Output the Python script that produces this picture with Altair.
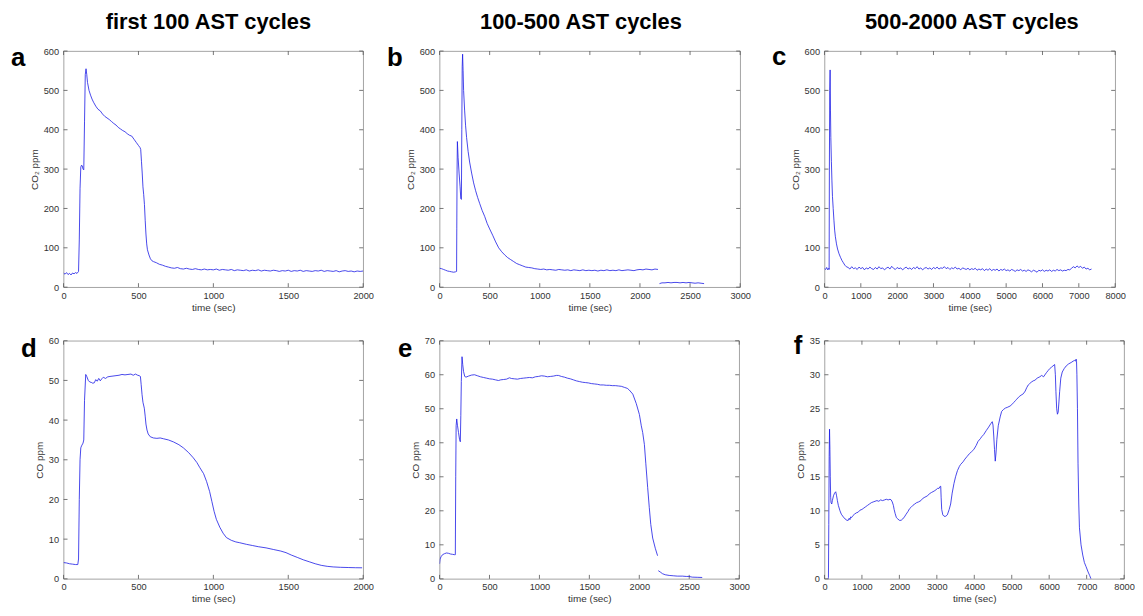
import altair as alt
import pandas as pd

FONT = "Liberation Sans"
LINE = "#1a1ae6"

# ---------------- data ----------------
# (a) CO2, first 100 AST cycles
t_a = [0, 10, 20, 30, 40, 50, 60, 70, 80, 90, 100, 105, 110, 115, 120, 125, 130, 135, 140, 145, 150, 155, 160, 170,
       180, 190, 200, 215, 230, 245, 260, 275, 290, 305, 320, 335, 350, 365, 380, 395, 410, 425, 440, 455, 470, 485,
       500, 510, 515, 520, 525, 530, 535, 540, 545, 550, 555, 560, 570, 580, 590, 600, 620, 640, 660, 680, 700,
       720, 740, 760, 780, 800, 820, 840, 860, 880, 900, 920, 940, 960, 980, 1000, 1020, 1040, 1060, 1080, 1100,
       1120, 1140, 1160, 1180, 1200, 1220, 1240, 1260, 1280, 1300, 1320, 1340, 1360, 1380, 1400, 1420, 1440, 1460,
       1480, 1500, 1520, 1540, 1560, 1580, 1600, 1620, 1640, 1660, 1680, 1700, 1720, 1740, 1760, 1780, 1800, 1820,
       1840, 1860, 1880, 1900, 1920, 1940, 1960, 1980, 2000]
y_a = [36, 33, 37, 32, 35, 31, 36, 34, 37, 35, 40, 120, 250, 305, 310, 308, 300, 298, 420, 540, 555, 540, 520, 500,
       488, 478, 470, 460, 452, 448, 440, 434, 430, 426, 421, 416, 412, 406, 402, 398, 395, 390, 386, 384, 376, 368,
       360, 355, 350, 320, 290, 255, 235, 210, 170, 135, 110, 95, 82, 72, 67, 65, 62, 58, 56, 53, 51,
       49, 48, 50, 47, 46, 48, 46, 45, 47, 45, 44, 46, 44, 45, 44, 46, 43, 45, 44, 43,
       45, 42, 44, 43, 42, 44, 41, 43, 42, 44, 41, 43, 42, 41, 43, 42, 40, 42,
       41, 43, 40, 42, 41, 43, 40, 42, 41, 40, 42, 41, 43, 40, 42, 41, 40, 42,
       39, 41, 42, 40, 41, 39, 41, 40, 41]

# (b) CO2, 100-500 AST cycles (two recorded segments)
t_b1 = [0, 20, 40, 60, 80, 100, 120, 140, 160, 170, 172, 175, 178, 185, 195, 205, 212, 218, 222, 226, 230, 235, 240,
        250, 260, 270, 285, 300, 320, 340, 360, 380, 400, 425, 450, 475, 500, 530, 560, 590, 620, 650, 680, 710,
        740, 770, 800, 830, 860, 890, 920, 950, 980, 1010, 1040, 1070, 1100, 1130, 1160, 1190, 1220, 1250, 1280,
        1310, 1340, 1370, 1400, 1430, 1460, 1490, 1520, 1550, 1580, 1610, 1640, 1670, 1700, 1730, 1760, 1790, 1820,
        1850, 1880, 1910, 1940, 1970, 2000, 2030, 2060, 2090, 2120, 2150, 2180]
y_b1 = [48, 47, 45, 43, 41, 40, 39, 38, 39, 40, 150, 300, 370, 330, 290, 255, 225, 223, 400, 560, 592, 550, 500,
        450, 410, 380, 345, 318, 290, 265, 245, 228, 213, 195, 180, 162, 148, 132, 115, 100, 90, 82, 75, 70,
        65, 60, 57, 54, 51, 50, 49, 47, 46, 45, 46, 44, 45, 44, 43, 45, 44, 43, 44,
        42, 44, 43, 42, 44, 42, 43, 42, 43, 41, 43, 42, 44, 42, 43, 42, 44, 42,
        43, 44, 43, 42, 44, 45, 44, 46, 45, 44, 46, 45]
t_b2 = [2195, 2220, 2250, 2280, 2310, 2340, 2370, 2400, 2430, 2460, 2490, 2520, 2550, 2580, 2610, 2640]
y_b2 = [9, 11, 11, 12, 11, 12, 12, 11, 12, 11, 12, 11, 10, 11, 10, 9]

# (c) CO2, 500-2000 AST cycles
t_c = [0, 30, 60, 90, 120, 128, 135, 145, 155, 165, 175, 190, 205, 220, 240, 260, 280, 300, 330, 360, 400, 440, 480,
       520, 560, 600,
       650, 700, 750, 800, 850, 900, 950, 1000, 1050, 1100, 1150, 1200, 1250, 1300, 1350, 1400, 1450, 1500, 1550,
       1600, 1650, 1700, 1750, 1800, 1850, 1900, 1950, 2000, 2050, 2100, 2150, 2200, 2250, 2300, 2350, 2400, 2450,
       2500, 2550, 2600, 2650, 2700, 2750, 2800, 2850, 2900, 2950, 3000, 3050, 3100, 3150, 3200, 3250, 3300, 3350,
       3400, 3450, 3500, 3550, 3600, 3650, 3700, 3750, 3800, 3850, 3900, 3950, 4000, 4050, 4100, 4150, 4200, 4250,
       4300, 4350, 4400, 4450, 4500, 4550, 4600, 4650, 4700, 4750, 4800, 4850, 4900, 4950, 5000, 5050, 5100, 5150,
       5200, 5250, 5300, 5350, 5400, 5450, 5500, 5550, 5600, 5650, 5700, 5750, 5800, 5850, 5900, 5950, 6000, 6050,
       6100, 6150, 6200, 6250, 6300, 6350, 6400, 6450, 6500, 6550, 6600, 6650, 6700, 6750, 6800, 6850, 6900, 6950,
       7000, 7050, 7100, 7150, 7200, 7250, 7300, 7350]
y_c = [47, 45, 50, 44, 48, 45, 300, 500, 552, 450, 380, 320, 270, 230, 200, 170, 145, 128, 110, 97, 85, 76, 68,
       62, 56, 52,
       50, 46, 52, 47, 49, 45, 51, 47, 50, 44, 49, 46, 51, 47, 45, 50, 46, 52, 47,
       49, 44, 48, 51, 46, 53, 48, 45, 50, 47, 49, 44, 48, 51, 46, 49, 45, 50,
       47, 52, 46, 49, 44, 48, 50, 46, 49, 45, 50, 47, 51, 46, 49, 48, 52, 47,
       50, 45, 49, 47, 51, 46, 48, 44, 49, 47, 45, 48, 44, 47, 45, 48, 43, 46,
       44, 47, 42, 46, 43, 47, 42, 45, 43, 46, 41, 45, 43, 46, 42, 44, 41, 45,
       43, 40, 44, 42, 45, 41, 43, 40, 44, 42, 39, 43, 41, 38, 43, 41, 44, 40,
       43, 41, 44, 40, 43, 41, 45, 42, 44, 41, 43, 42, 45, 44, 48, 52, 49, 54,
       50, 53, 48, 51, 46, 48, 44, 46]

# (d) CO, first 100 AST cycles
t_d = [0, 20, 40, 60, 80, 95, 100, 105, 110, 115, 120, 130, 135, 140, 148, 155, 165, 175, 185, 195, 205, 215, 225,
       235, 245, 255, 265, 280, 295, 310, 330, 350, 370, 390, 410, 430, 450, 465, 480, 495, 505, 513, 518, 524,
       530, 539, 545, 550, 557, 565, 579, 600, 623, 645, 667, 700, 734, 770, 800, 835, 866, 890, 910, 935, 955,
       975, 990, 1005, 1020, 1043, 1065, 1087, 1120, 1150, 1176, 1220, 1260, 1300, 1352, 1400, 1450, 1485, 1520,
       1560, 1600, 1640, 1680, 1720, 1760, 1800, 1850, 1900, 1950, 1993]
y_d = [4.1, 4.0, 3.8, 3.7, 3.6, 3.6, 5, 20, 30, 33, 33.5, 34.2, 35, 45, 51.5, 51, 50, 49.6, 49.5, 49.3, 49.4, 50.2,
       49.8, 50.5, 49.9, 50.4, 50.8, 50.5, 50.9, 51, 51.1, 51.2, 51.3, 51.5, 51.4, 51.5, 51.6, 51.3, 51.6, 51.3,
       51.2, 51, 49, 46.4, 44.5, 43, 41, 39, 37.5, 36.5, 35.8, 35.5, 35.4, 35.5, 35.3, 35, 34.5, 33.8, 33, 31.8,
       30.5, 29.3, 28, 26.5, 24.5, 22, 19.5, 17, 15, 13, 11.5, 10.4, 9.7, 9.3, 9.1, 8.7, 8.4, 8.1, 7.8, 7.4, 7.0,
       6.6, 6.0, 5.4, 4.8, 4.3, 3.8, 3.4, 3.15, 3.0, 2.9, 2.85, 2.8, 2.78]

# (e) CO, 100-500 AST cycles (two recorded segments)
t_e1 = [0, 5, 15, 30, 50, 70, 90, 110, 130, 150, 158, 162, 166, 172, 180, 190, 200, 208, 213, 218, 225, 232, 240,
        252, 265, 290, 320, 350, 380, 410, 440, 470, 500, 530, 560, 590, 612, 640, 670, 700, 720, 750, 780, 810,
        840, 870, 900, 930, 960, 990, 1020, 1050, 1080, 1110, 1140, 1170, 1190, 1220, 1250, 1280, 1310, 1340,
        1370, 1400, 1430, 1460, 1490, 1520, 1550, 1580, 1610, 1640, 1670, 1700, 1730, 1760, 1790, 1820, 1850,
        1880, 1900, 1935, 1970, 2001, 2020, 2034, 2051, 2065, 2084, 2100, 2115, 2134, 2160, 2183]
y_e1 = [4.4, 5.8, 6.5, 7.1, 7.4, 7.6, 7.5, 7.3, 7.2, 7.1, 7.1, 30, 45, 47, 45, 43, 41, 40.3, 48, 58, 65.3, 63, 61,
        59.5, 59.3, 59.6, 59.9, 60, 59.7, 59.4, 59.2, 59.0, 58.8, 58.7, 58.5, 58.3, 58.5, 58.6, 58.7, 59.1, 58.9,
        58.8, 58.7, 58.9, 59, 59.1, 59.2, 59.1, 59.4, 59.5, 59.7, 59.6, 59.4, 59.5, 59.6, 59.8, 59.8, 59.5, 59.3,
        59.0, 58.8, 58.5, 58.2, 58.0, 57.8, 57.7, 57.6, 57.4, 57.3, 57.2, 57.0, 57.0, 56.9, 56.9, 56.8, 56.8,
        56.7, 56.6, 56.3, 56.0, 55.5, 54.3, 51.5, 48.3, 45, 43, 39.5, 34, 26.8, 21, 16, 12, 9, 6.8]
t_e2 = [2190, 2210, 2233, 2260, 2299, 2340, 2380, 2431, 2470, 2497, 2530, 2580, 2630]
y_e2 = [2.4, 2.0, 1.5, 1.2, 1.0, 0.9, 0.8, 0.8, 0.7, 0.7, 0.5, 0.45, 0.4]

# (f) CO, 500-2000 AST cycles
t_f = [100, 106, 115, 125, 135, 145, 155, 165, 175, 194, 210, 240, 270, 300, 320, 345, 370, 414, 450, 503, 550, 600,
       635, 660, 680, 700, 723, 760, 800, 850, 900, 950, 1000, 1050, 1100, 1150, 1200, 1252, 1300, 1350, 1400,
       1450, 1500, 1550, 1605, 1650, 1700, 1750, 1781, 1810, 1840, 1860, 1887, 1920, 1958, 2000, 2046, 2090,
       2134, 2180, 2230, 2270, 2310, 2360, 2410, 2460, 2510, 2575, 2620, 2680, 2751, 2800, 2860, 2928, 2980,
       3020, 3060, 3090, 3104, 3115, 3130, 3160, 3192, 3240, 3280, 3330, 3369, 3410, 3457, 3500, 3550, 3600,
       3633, 3700, 3750, 3810, 3870, 3930, 3986, 4050, 4100, 4162, 4200, 4250, 4320, 4383, 4440, 4480, 4500,
       4520, 4540, 4560, 4580, 4603, 4640, 4691, 4730, 4780, 4830, 4880, 4956, 5000, 5050, 5100, 5132, 5200,
       5250, 5309, 5360, 5400, 5441, 5480, 5520, 5573, 5620, 5680, 5750, 5800, 5850, 5900, 5926, 5970, 6014,
       6060, 6102, 6146, 6165, 6180, 6200, 6220, 6240, 6260, 6279, 6310, 6349, 6400, 6455, 6520, 6587, 6640,
       6676, 6700, 6720, 6730, 6740, 6755, 6770, 6790, 6808, 6850, 6896, 6940, 6984, 7040, 7080, 7116]
y_f = [0, 0.2, 8, 18, 22, 19, 15, 12, 11.2, 11, 11.5, 12.2, 12.6, 12.8, 12.3, 11.5, 10.8, 10, 9.5, 9.1, 8.8, 8.6,
       8.6, 8.9, 8.7, 9.1, 9.0, 9.3, 9.5, 9.7, 9.8, 10.1, 10.2, 10.4, 10.6, 10.8, 11.0, 11.2, 11.3, 11.4, 11.5,
       11.4, 11.6, 11.5, 11.6, 11.7, 11.6, 11.7, 11.6, 11.3, 10.8, 10.2, 9.6, 9.0, 8.8, 8.6, 8.6, 8.8,
       9.1, 9.5, 9.9, 10.3, 10.5, 10.8, 11.0, 11.2, 11.3, 11.5, 11.8, 12.0, 12.2, 12.5, 12.7, 12.9, 13.1,
       13.3, 13.3, 13.6, 13.6, 12, 10.2, 9.4, 9.2, 9.2, 9.4, 10.2, 11, 12.6, 14, 15, 15.9, 16.5,
       16.8, 17.2, 17.6, 18, 18.4, 18.7, 19, 19.6, 20.2, 20.6, 20.9, 21.2, 21.8, 22.3, 22.8, 23.1, 22.6,
       21, 19, 17.3, 18.5, 20.5, 22.5, 23.8, 24.6, 24.9, 25.1, 25.2, 25.4, 25.6, 25.9, 26.2, 26.4, 26.8,
       27.0, 27.2, 27.6, 28.1, 28.5, 28.7, 28.9, 29.1, 29.2, 29.5, 29.7, 29.9, 29.7, 30.1, 30.3, 30.6, 30.9,
       31.1, 31.3, 31.5, 30, 27.5, 25, 24.2, 24.5, 26, 27.5, 29.5, 30.4, 30.9, 31.3, 31.6, 31.8, 32,
       32.1, 32.0, 32.3, 32.0, 30, 25, 17, 11, 7.5, 5, 3.5, 2.4, 1.8, 1.0, 0.5, 0]

# tick values
xt_2000 = [0, 500, 1000, 1500, 2000]
xt_3000 = [0, 500, 1000, 1500, 2000, 2500, 3000]
xt_8000 = [0, 1000, 2000, 3000, 4000, 5000, 6000, 7000, 8000]
yt_600 = [0, 100, 200, 300, 400, 500, 600]
yt_60 = [0, 10, 20, 30, 40, 50, 60]
yt_70 = [0, 10, 20, 30, 40, 50, 60, 70]
yt_35 = [0, 5, 10, 15, 20, 25, 30, 35]

col_titles = ["first 100 AST cycles", "100-500 AST cycles", "500-2000 AST cycles"]
letters = ["a", "b", "c", "d", "e", "f"]
CO2 = "CO\u2082 ppm"
CO = "CO ppm"


def make_df(segments):
    rows = []
    for k, (ts, ys) in enumerate(segments):
        for t, y in zip(ts, ys):
            rows.append({"t": t, "y": y, "seg": k})
    return pd.DataFrame(rows)


def panel(segments, xmax, xticks, ymax, yticks, ytitle, letter, ldx, ldy, w, h,
          coltitle=None, cdx=0, xtitle_pad=2, xlabel_pad=4):
    df = make_df(segments)
    xs = alt.Scale(domain=[0, xmax], nice=False, zero=False)
    ys = alt.Scale(domain=[0, ymax], nice=False, zero=False)
    common = dict(labelFont=FONT, titleFont=FONT, labelFontSize=9.3, titleFontSize=10,
                  labelColor="#333333", titleColor="#333333", titleFontWeight="normal",
                  domain=False, ticks=False, tickSize=0, grid=False, format="d",
                  labelFlush=False, labelOverlap=False)
    xax = alt.Axis(values=xticks, title="time (sec)", labelPadding=xlabel_pad, titlePadding=xtitle_pad, **common)
    yax = alt.Axis(values=yticks, title=ytitle, labelPadding=5, titlePadding=4, **common)
    xenc = alt.X("t:Q", scale=xs, axis=xax)
    yenc = alt.Y("y:Q", scale=ys, axis=yax)

    line = alt.Chart(df).mark_line(color=LINE, strokeWidth=0.8, clip=True).encode(
        x=xenc, y=yenc, detail="seg:N")

    xtdf = pd.DataFrame({"t": xticks})
    ytdf = pd.DataFrame({"y": yticks})
    tick_style = dict(color="#555555", strokeWidth=0.8)
    xb = alt.Chart(xtdf).mark_rule(**tick_style).encode(x=xenc, y=alt.value(h), y2=alt.value(h - 4))
    xtp = alt.Chart(xtdf).mark_rule(**tick_style).encode(x=xenc, y=alt.value(0), y2=alt.value(4))
    yl = alt.Chart(ytdf).mark_rule(**tick_style).encode(y=yenc, x=alt.value(0), x2=alt.value(4))
    yr = alt.Chart(ytdf).mark_rule(**tick_style).encode(y=yenc, x=alt.value(w - 4), x2=alt.value(w))

    lt = alt.Chart(pd.DataFrame({"s": [letter]})).mark_text(
        font=FONT, fontSize=26, fontWeight="bold", color="black", align="left",
        baseline="alphabetic").encode(x=alt.value(ldx), y=alt.value(ldy), text="s:N")
    layers = [xb, xtp, yl, yr, line, lt]
    if coltitle:
        ct = alt.Chart(pd.DataFrame({"s": [coltitle]})).mark_text(
            font=FONT, fontSize=22, fontWeight="bold", color="black", align="center",
            baseline="alphabetic").encode(x=alt.value(w / 2 + cdx), y=alt.value(-22), text="s:N")
        layers.append(ct)
    return alt.layer(*layers).properties(
        width=w, height=h, view=alt.ViewBackground(stroke="#8c8c8c", strokeWidth=0.8))


def spacer(w, h):
    return alt.Chart(pd.DataFrame({"v": [0]})).mark_point(opacity=0).encode(
        x=alt.value(0), y=alt.value(0)).properties(
        width=w, height=h, view=alt.ViewBackground(stroke="transparent"))


pa = panel([(t_a, y_a)], 2000, xt_2000, 600, yt_600, CO2, letters[0], -53, 15, 302, 238, col_titles[0], -5)
pb = panel([(t_b1, y_b1), (t_b2, y_b2)], 3000, xt_3000, 600, yt_600, CO2, letters[1], -53, 15, 303, 238,
           col_titles[1], -9)
pc = panel([(t_c, y_c)], 8000, xt_8000, 600, yt_600, CO2, letters[2], -53, 14, 293, 238, col_titles[2], 2)
pd_ = panel([(t_d, y_d)], 2000, xt_2000, 60, yt_60, CO, letters[3], -43, 16, 302, 240)
pe = panel([(t_e1, y_e1), (t_e2, y_e2)], 3000, xt_3000, 70, yt_70, CO, letters[4], -42, 16, 302, 240)
pf = panel([(t_f, y_f)], 8000, xt_8000, 35, yt_35, CO, letters[5], -31, 13, 302, 240)

chart = alt.concat(
    pa, spacer(76, 10), pb, spacer(85, 10), pc,
    pd_, spacer(77, 10), pe, spacer(72, 10), pf,
    columns=5, align="none", bounds="flush",
    spacing=alt.RowColnumber(row=54, column=0),
).properties(
    padding={"left": 2, "top": 0, "right": 0, "bottom": 0}
)

chart.save("out.html", embed_options={"renderer": "svg", "actions": False})
